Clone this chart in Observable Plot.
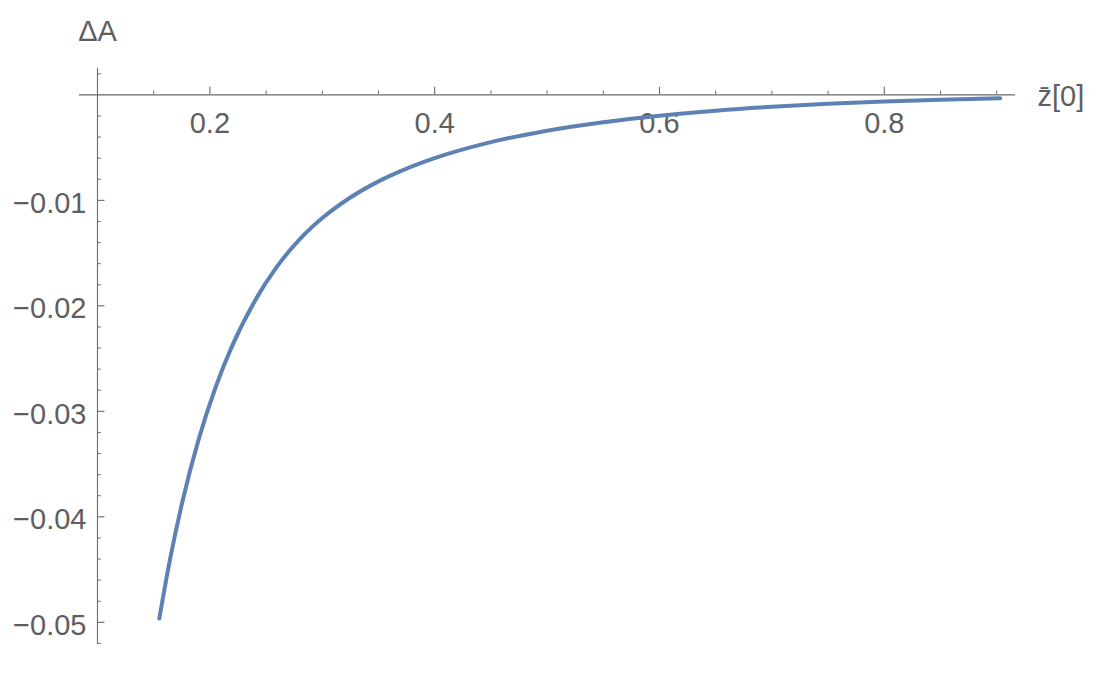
<!DOCTYPE html>
<html>
<head>
<meta charset="utf-8">
<script src="https://cdn.jsdelivr.net/npm/d3@7"></script>
<script src="https://cdn.jsdelivr.net/npm/@observablehq/plot@0.6"></script>
<style>
  html, body { margin: 0; padding: 0; background: #fff; }
  #chart svg { display: block; }
</style>
</head>
<body>
<div id="chart"></div>
<script>
// Curve samples: z̄[0] vs ΔA
const zbar = [0.155, 0.165, 0.175, 0.19, 0.205, 0.22, 0.24, 0.26, 0.28, 0.3, 0.325, 0.35, 0.375, 0.4, 0.45, 0.5, 0.55, 0.6, 0.65, 0.7, 0.75, 0.8, 0.85, 0.903];
const deltaA = [-0.04964, -0.04378, -0.03881, -0.03266, -0.02774, -0.02375, -0.01953, -0.01624, -0.01368, -0.01168, -0.009726, -0.008197, -0.006985, -0.005994, -0.00448, -0.003393, -0.002588, -0.001973, -0.001497, -0.001127, -0.000843, -0.000625, -0.00046, -0.00033];

// Axis ticks
const xMajor = [0.2, 0.4, 0.6, 0.8];
const xMajorLabels = ["0.2", "0.4", "0.6", "0.8"];
const xMinor = [0.15, 0.25, 0.3, 0.35, 0.45, 0.5, 0.55, 0.65, 0.7, 0.75, 0.85, 0.9];
const yMajor = [-0.01, -0.02, -0.03, -0.04, -0.05];
const yMajorLabels = ["\u22120.01", "\u22120.02", "\u22120.03", "\u22120.04", "\u22120.05"];
const yMinor = [0.002, -0.002, -0.004, -0.006, -0.008, -0.012, -0.014, -0.016, -0.018, -0.022, -0.024, -0.026, -0.028, -0.032, -0.034, -0.036, -0.038, -0.042, -0.044, -0.046, -0.048, -0.052];

const xLabel = "z\u0304[0]";
const yLabel = "\u0394A";

const curve = zbar.map((x, i) => ({x, y: deltaA[i]}));
const xTicks = xMajor.map((x, i) => ({x, label: xMajorLabels[i]}));
const yTicks = yMajor.map((y, i) => ({y, label: yMajorLabels[i]}));

const X0 = 0.1;      // where the vertical axis crosses
const xDom = [0.084, 0.9167];
const yDom = [-0.0521, 0.0025];
const W = 1102, H = 676;
const mL = 79, mR = 87, mT = 68, mB = 32;
// tick lengths in data units (pixels / pixels-per-unit)
const pxPerX = (W - mL - mR) / (xDom[1] - xDom[0]);
const pxPerY = (H - mT - mB) / (yDom[1] - yDom[0]);
const majLen = 7.5, minLen = 3.8;

const axisColor = "#6a6a6a";
const textColor = "#5e5e5e";
const font = "'Liberation Sans', Arial, Helvetica, sans-serif";
const fs = 29;

const chart = Plot.plot({
  width: W,
  height: H,
  marginLeft: mL,
  marginRight: mR,
  marginTop: mT,
  marginBottom: mB,
  style: {fontFamily: font, background: "#fff"},
  x: {domain: xDom, axis: null},
  y: {domain: yDom, axis: null},
  marks: [
    // axes lines
    Plot.ruleY([0], {x1: xDom[0], x2: xDom[1], stroke: axisColor, strokeWidth: 1.1}),
    Plot.ruleX([X0], {y1: yDom[0], y2: yDom[1], stroke: axisColor, strokeWidth: 1.1}),
    // x ticks (pointing up)
    Plot.ruleX(xMajor, {x: d => d, y1: 0, y2: majLen / pxPerY, stroke: axisColor, strokeWidth: 1.1}),
    Plot.ruleX(xMinor, {x: d => d, y1: 0, y2: minLen / pxPerY, stroke: axisColor, strokeWidth: 1}),
    // y ticks (pointing right)
    Plot.ruleY(yMajor, {y: d => d, x1: X0, x2: X0 + majLen / pxPerX, stroke: axisColor, strokeWidth: 1.1}),
    Plot.ruleY(yMinor, {y: d => d, x1: X0, x2: X0 + minLen / pxPerX, stroke: axisColor, strokeWidth: 1}),
    // tick labels
    Plot.text(xTicks, {x: "x", y: 0, text: "label", dy: 29, fill: textColor, fontSize: fs, textAnchor: "middle"}),
    Plot.text(yTicks, {x: X0, y: "y", text: "label", dx: -11, dy: 3, fill: textColor, fontSize: fs, textAnchor: "end"}),
    // axis labels
    Plot.text([yLabel], {x: X0, y: yDom[1], text: d => d, dy: -37, fill: textColor, fontSize: fs, textAnchor: "middle"}),
    Plot.text([xLabel], {x: xDom[1], y: 0, text: d => d, dx: 22, dy: 2, fill: textColor, fontSize: fs, textAnchor: "start"}),
    // the curve
    Plot.line(curve, {x: "x", y: "y", stroke: "#5E81B5", strokeWidth: 4, curve: "monotone-x"})
  ]
});
document.getElementById("chart").append(chart);
</script>
</body>
</html>
